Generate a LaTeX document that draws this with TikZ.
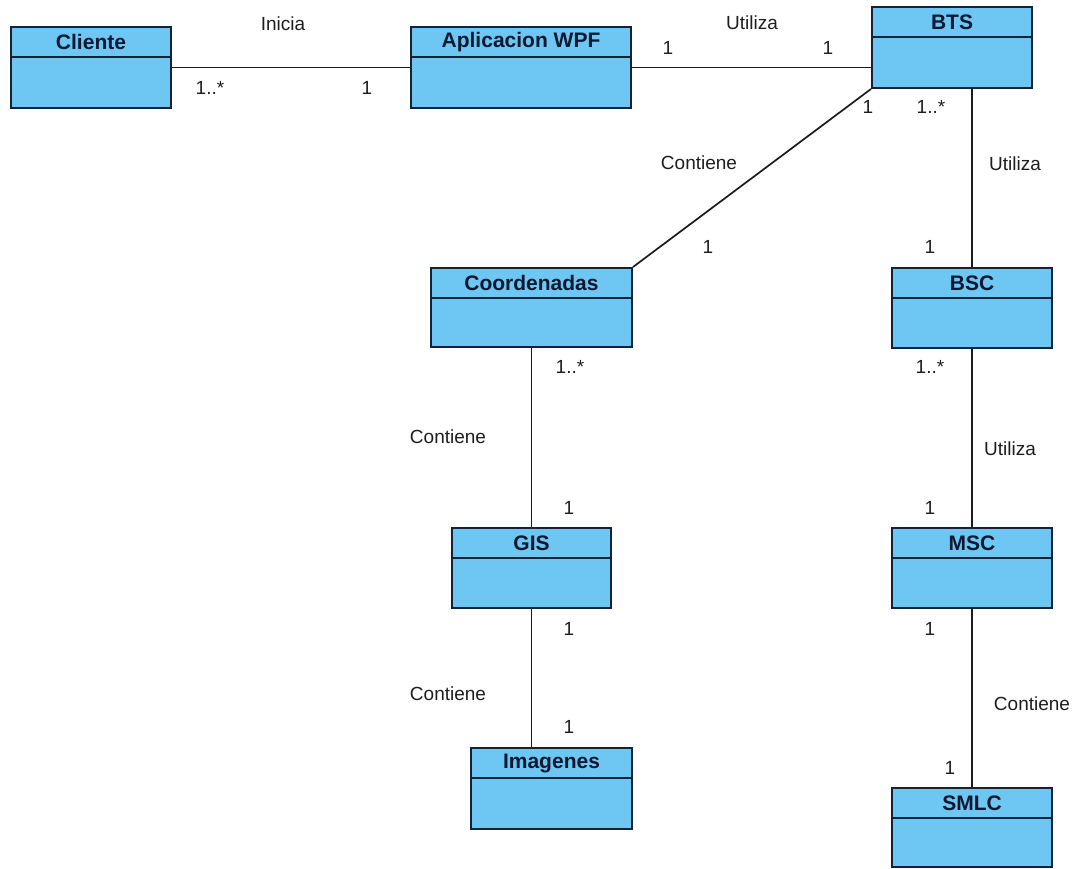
\documentclass[tikz,border=0pt]{standalone}
\usepackage{fontspec}
\setmainfont{Liberation Sans}
\usetikzlibrary{calc}
\definecolor{classfill}{RGB}{110,199,242}
\definecolor{classline}{RGB}{20,34,56}
\definecolor{classtitle}{RGB}{10,24,50}
\definecolor{labeltext}{RGB}{30,30,30}
\tikzset{
  classbox/.style={draw=classline, fill=classfill, line width=2pt, rectangle, inner sep=0pt},
  classname/.style={anchor=center, text=classtitle, font=\fontsize{21}{24}\selectfont\bfseries, inner sep=0pt},
  assoc/.style={draw=labeltext!90!black, line width=1.7pt},
  lbl/.style={text=labeltext, font=\fontsize{19}{23}\selectfont, inner sep=0pt, anchor=center},
}
% \umlclass{name}{left}{top}{right}{bottom}{title}  (y grows downwards)
\newcommand{\umlclass}[6]{%
  \node[classbox, minimum width=#4pt-#2pt, minimum height=#5pt-#3pt]
    (#1) at ({(#2+#4)/2},{(#3+#5)/2}) {};
  \draw[classline, line width=2pt] ($(#1.north west)+(0,31)$) -- ($(#1.north east)+(0,31)$);
  \node[classname] (#1-title) at ($(#1.north)+(0,16)$) {#6};
}
\begin{document}
\begin{tikzpicture}[x=1pt, y=-1pt]
  \useasboundingbox[fill=white] (0,0) rectangle (1077,869);

  % classes
  \umlclass{cli}{11}{27}{171}{108}{Cliente}
  \umlclass{wpf}{411}{27}{631}{108}{Aplicacion WPF}
  \umlclass{bts}{872}{7}{1032}{88}{BTS}
  \umlclass{coord}{431}{268}{632}{347}{Coordenadas}
  \umlclass{bsc}{892}{268}{1052}{348}{BSC}
  \umlclass{gis}{452}{528}{611}{608}{GIS}
  \umlclass{msc}{892}{528}{1052}{608}{MSC}
  \umlclass{img}{471}{748}{632}{829}{Imagenes}
  \umlclass{smlc}{892}{788}{1052}{867}{SMLC}

  % associations
  \draw[assoc] (cli.east) -- (wpf.west);
  \draw[assoc] (wpf.east) -- (bts.west |- wpf.east);
  \draw[assoc] (bts.south west) -- (coord.north east);
  \draw[assoc] (bsc.north |- bts.south) -- (bsc.north);
  \draw[assoc] (coord.south) -- (gis.north);
  \draw[assoc] (bsc.south) -- (msc.north);
  \draw[assoc] (gis.south) -- (gis.south |- img.north);
  \draw[assoc] (msc.south) -- (smlc.north);

  % role names and multiplicities
  \node[lbl] (l-inicia) at (283,24) {Inicia};
  \node[lbl] (m-cli) at (210,88) {1..*};
  \node[lbl] (m-wpf1) at (367,88) {1};
  \node[lbl] (l-util1) at (752,23) {Utiliza};
  \node[lbl] (m-wpf2) at (668,48) {1};
  \node[lbl] (m-bts1) at (828,48) {1};

  \node[lbl] (m-bts2) at (868,107) {1};
  \node[lbl] (l-cont1) at (699,163) {Contiene};
  \node[lbl] (m-coord1) at (708,247) {1};
  \node[lbl] (m-bts3) at (931,107) {1..*};
  \node[lbl] (l-util2) at (1015,164) {Utiliza};
  \node[lbl] (m-bsc1) at (930,247) {1};

  \node[lbl] (m-coord2) at (570,367) {1..*};
  \node[lbl] (l-cont2) at (448,437) {Contiene};
  \node[lbl] (m-gis1) at (569,508) {1};
  \node[lbl] (m-bsc2) at (930,367) {1..*};
  \node[lbl] (l-util3) at (1010,449) {Utiliza};
  \node[lbl] (m-msc1) at (930,508) {1};

  \node[lbl] (m-gis2) at (569,629) {1};
  \node[lbl] (l-cont3) at (448,694) {Contiene};
  \node[lbl] (m-img) at (569,727) {1};
  \node[lbl] (m-msc2) at (930,629) {1};
  \node[lbl] (l-cont4) at (1032,704) {Contiene};
  \node[lbl] (m-smlc) at (950,768) {1};
\end{tikzpicture}
\end{document}
